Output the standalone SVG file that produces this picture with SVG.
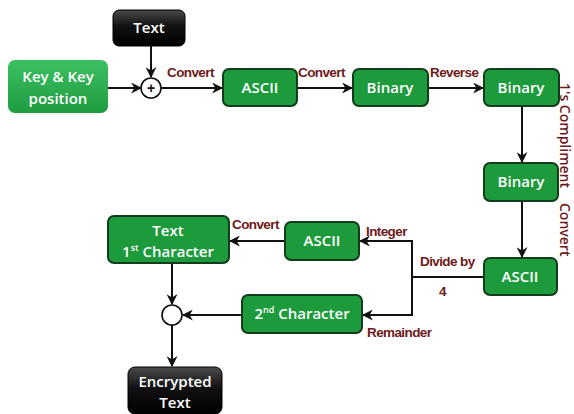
<svg xmlns="http://www.w3.org/2000/svg" width="574" height="414" viewBox="0 0 574 414">
<defs>
<linearGradient id="gBlack" x1="0" y1="0" x2="0" y2="1">
<stop offset="0" stop-color="#4a4a4a"/>
<stop offset="0.45" stop-color="#111"/>
<stop offset="1" stop-color="#000"/>
</linearGradient>
<linearGradient id="gKey" x1="0" y1="0" x2="0" y2="1">
<stop offset="0" stop-color="#3cbf62"/>
<stop offset="1" stop-color="#1f9c40"/>
</linearGradient>
<marker id="arr" viewBox="0 0 10 10" refX="9" refY="5" markerWidth="5.5" markerHeight="5.5" orient="auto" markerUnits="strokeWidth">
<path d="M0,0 L10,5 L0,10 L3,5 Z" fill="#111"/>
</marker>
<style>
.g{fill:#1c9a3c;stroke:#123d1a;stroke-width:2}
.b{fill:url(#gBlack);stroke:#000;stroke-width:1}
.t{font-family:"Open Sans","Noto Sans",sans-serif;font-weight:600;font-size:15px;fill:#fff;text-anchor:middle}
.l{font-family:"Liberation Sans",Arial,sans-serif;font-weight:bold;font-size:13.5px;fill:#6e1a1a;letter-spacing:-0.6px}
.r{font-family:"Open Sans","Noto Sans",sans-serif;font-weight:600;font-size:14px;fill:#6e1a1a}
.c{fill:none;stroke:#111;stroke-width:2}
.ca{fill:none;stroke:#111;stroke-width:2;marker-end:url(#arr)}
.o{fill:#fff;stroke:#111;stroke-width:1.6}
</style>
</defs>
<rect width="574" height="414" fill="#fff"/>

<g id="connectors">
<path class="ca" d="M108,88 H141"/>
<path class="ca" d="M151,46 V77"/>
<path class="ca" d="M161,88 H222"/>
<path class="ca" d="M297,88 H352"/>
<path class="ca" d="M428,88 H483"/>
<path class="ca" d="M522,106 V162"/>
<path class="ca" d="M522,201 V257"/>
<path class="c" d="M484,277 H412 M412,240 V316"/>
<path class="ca" d="M412,241 H360"/>
<path class="ca" d="M412,315 H363"/>
<path class="ca" d="M285,241 H230"/>
<path class="ca" d="M172,263 V304"/>
<path class="ca" d="M242,315 H183"/>
<path class="ca" d="M172,325 V366"/>
</g>

<g id="labels">
<text class="l" x="167" y="77">Convert</text>
<text class="l" x="298" y="77">Convert</text>
<text class="l" x="430" y="77">Reverse</text>
<text class="r" transform="translate(560,83) rotate(90)">1's Compliment</text>
<text class="r" transform="translate(560,203) rotate(90)">Convert</text>
<text class="l" x="232" y="229">Convert</text>
<text class="l" x="366" y="236">Integer</text>
<text class="l" x="420" y="266">Divide by</text>
<text class="l" x="439" y="296">4</text>
<text class="l" x="367" y="337">Remainder</text>
</g>

<g id="text-in">
<rect class="b" x="113" y="10" width="72" height="36" rx="6"/>
<text class="t" x="149" y="33">Text</text>
</g>
<g id="key">
<rect x="8" y="60" width="100" height="53" rx="7" fill="url(#gKey)"/>
<text class="t" x="58" y="82">Key &amp; Key</text>
<text class="t" x="58" y="104">position</text>
</g>
<g id="plus">
<circle class="o" cx="151" cy="88" r="10"/>
<text x="151" y="93" text-anchor="middle" font-family="Liberation Sans,Arial,sans-serif" font-weight="bold" font-size="14" fill="#111">+</text>
</g>
<g id="ascii1">
<rect class="g" x="223" y="69" width="74" height="37" rx="6"/>
<text class="t" x="260" y="93">ASCII</text>
</g>
<g id="binary1">
<rect class="g" x="353" y="69" width="75" height="37" rx="6"/>
<text class="t" x="390" y="93">Binary</text>
</g>
<g id="binary2">
<rect class="g" x="484" y="69" width="75" height="37" rx="6"/>
<text class="t" x="521" y="93">Binary</text>
</g>
<g id="binary3">
<rect class="g" x="484" y="163" width="74" height="38" rx="6"/>
<text class="t" x="521" y="187">Binary</text>
</g>
<g id="ascii2">
<rect class="g" x="484" y="258" width="73" height="37" rx="6"/>
<text class="t" x="520" y="282">ASCII</text>
</g>
<g id="ascii3">
<rect class="g" x="285" y="222" width="74" height="38" rx="6"/>
<text class="t" x="322" y="246">ASCII</text>
</g>
<g id="first-char">
<rect class="g" x="108" y="216" width="121" height="47" rx="6"/>
<text class="t" x="168" y="236">Text</text>
<text class="t" x="168" y="257">1<tspan font-size="9" dy="-6">st</tspan><tspan dy="6"> Character</tspan></text>
</g>
<g id="second-char">
<rect class="g" x="242" y="295" width="120" height="38" rx="6"/>
<text class="t" x="302" y="319">2<tspan font-size="9" dy="-6">nd</tspan><tspan dy="6"> Character</tspan></text>
</g>
<g id="join">
<circle class="o" cx="172" cy="315" r="10"/>
</g>
<g id="encrypted">
<rect class="b" x="128" y="367" width="94" height="47" rx="7"/>
<text class="t" x="175" y="387">Encrypted</text>
<text class="t" x="175" y="408">Text</text>
</g>
</svg>
